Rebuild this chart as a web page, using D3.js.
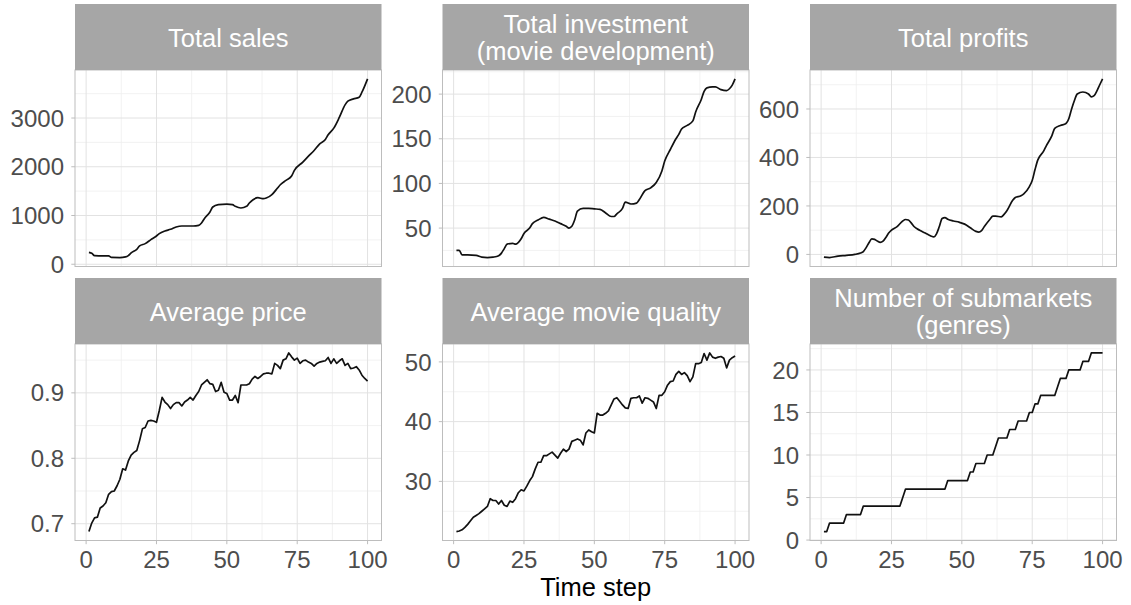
<!DOCTYPE html>
<html>
<head>
<meta charset="utf-8">
<script src="https://cdn.jsdelivr.net/npm/d3@7"></script>
<style>
body { margin: 0; background: #fff; }
text { font-family: 'Liberation Sans', Arial, Helvetica, sans-serif; }
</style>
</head>
<body>
<div id="chart"></div>
<script>
// ---- data ----
var timeSteps = d3.range(1, 101);

var salesSteps = [1,2,3,6,8,9,12,14,15,16,18,19,21,23,25,26,28,30,32,34,38,40,41,42,44,45,47,50,52,53,55,57,58,61,63,64,66,68,69,71,73,74,77,79,81,83,85,86,88,90,92,93,95,97,98,100];
var salesValues = [245,225,175,170,170,140,137,150,177,232,307,375,423,505,580,628,683,717,765,785,785,799,846,935,1072,1174,1222,1235,1222,1188,1154,1188,1256,1365,1345,1358,1427,1563,1631,1720,1809,1925,2096,2218,2334,2471,2560,2655,2792,3017,3270,3345,3392,3427,3529,3802];

var investSteps = [1,2,3,5,8,10,12,14,16,17,18,19,21,22,24,25,27,28,30,32,34,36,38,40,41,42,43,44,46,48,50,52,54,56,57,58,60,61,63,65,66,68,70,72,74,75,77,79,80,81,83,85,86,88,89,90,92,93,95,97,98,99,100];
var investValues = [25,25,20,20,19.5,17.5,17,17.5,19,22,27,32,33,32,38,44,50,55,59,62,60,58,55,52,50,52,59,69,72,72,71.5,71,67,63,63,66,72,79,77,78,82,92,95,101,114,125,138,150,155,161,165,170,180,194,203,207,208,208,205,204,206,210,217];

var profitSteps = [1,3,6,9,12,14,15,16,17,18,19,20,21,22,23,24,25,27,29,30,31,32,33,35,37,39,40,41,42,43,44,45,47,49,51,53,55,56,57,58,60,61,62,64,65,66,68,69,71,72,74,75,76,77,79,80,82,83,85,87,88,89,90,91,93,95,96,97,98,99,100];
var profitValues = [-11,-13,-7,-4,0,6,12,28,48,64,62,55,50,55,70,88,100,115,138,144,142,130,115,100,88,76,72,85,115,148,152,145,138,133,125,110,95,92,98,115,145,158,158,155,165,180,222,235,242,250,280,305,350,390,425,448,490,520,532,540,560,600,635,662,670,662,650,655,675,700,724];

var priceValues = [0.688,0.701,0.709,0.710,0.724,0.727,0.732,0.745,0.749,0.750,
  0.758,0.768,0.784,0.782,0.796,0.805,0.809,0.812,0.827,0.845,
  0.847,0.857,0.858,0.857,0.855,0.873,0.893,0.886,0.882,0.876,
  0.882,0.885,0.885,0.880,0.886,0.889,0.893,0.889,0.896,0.902,
  0.912,0.916,0.920,0.914,0.913,0.902,0.904,0.916,0.901,0.899,
  0.889,0.889,0.896,0.885,0.912,0.912,0.912,0.914,0.921,0.925,
  0.922,0.925,0.929,0.930,0.930,0.929,0.945,0.942,0.937,0.950,
  0.952,0.961,0.955,0.950,0.953,0.945,0.949,0.950,0.947,0.945,
  0.941,0.945,0.947,0.948,0.949,0.954,0.945,0.952,0.945,0.949,
  0.952,0.942,0.945,0.937,0.938,0.940,0.935,0.927,0.922,0.918];

var qualityValues = [21.6,21.7,21.9,22.3,22.8,23.4,24.0,24.3,24.6,25.0,
  25.4,25.8,27.1,26.8,26.8,26.2,26.8,26.0,25.8,26.7,
  26.5,27.1,28.1,28.6,28.4,29.2,30.1,30.8,32.1,33.2,
  33.2,34.3,34.3,34.6,34.9,34.4,33.9,34.7,35.4,35.0,
  35.4,36.7,36.9,37.1,36.9,36.1,38.1,38.6,38.3,38.1,
  41.4,41.1,41.1,41.4,41.8,42.8,43.8,44.0,43.4,42.8,
  42.3,42.2,43.9,44.0,44.0,44.3,43.1,44.0,43.9,43.6,
  43.3,42.2,44.4,44.4,45.0,46.1,46.7,46.8,47.9,48.4,
  47.9,48.2,47.7,46.7,47.5,49.7,49.7,49.9,51.4,50.3,
  51.5,50.8,50.6,50.8,50.9,50.6,49.0,50.3,50.7,51.0];

var submarketValues = [1,1,2,2,2,2,2,2,3,3,
  3,3,3,3,4,4,4,4,4,4,
  4,4,4,4,4,4,4,4,5,6,
  6,6,6,6,6,6,6,6,6,6,
  6,6,6,6,7,7,7,7,7,7,
  7,7,8,8,9,9,9,9,10,10,
  10,11,12,12,12,12,13,13,13,14,
  14,14,14,15,15,16,16,17,17,17,
  17,17,17,18,19,19,19,20,20,20,
  20,20,21,21,21,22,22,22,22,22];

var panelTitles = [
  ['Total sales'],
  ['Total investment', '(movie development)'],
  ['Total profits'],
  ['Average price'],
  ['Average movie quality'],
  ['Number of submarkets', '(genres)']
];

var xTicks = [0, 25, 50, 75, 100];
var salesTicks = [0, 1000, 2000, 3000];
var investTicks = [50, 100, 150, 200];
var profitTicks = [0, 200, 400, 600];
var priceTicks = [0.7, 0.8, 0.9];
var qualityTicks = [30, 40, 50];
var submarketTicks = [0, 5, 10, 15, 20];
var xTitle = 'Time step';

// ---- layout ----
var width = 1131, height = 605;
var panelLeft = 75, panelStep = 367.5, panelW = 306.5;
var stripTop0 = 4, rowStep = 274, stripH = 66, plotH = 196.5;

var panels = [
  {x: salesSteps, y: salesValues, ticks: salesTicks, smooth: true},
  {x: investSteps, y: investValues, ticks: investTicks, smooth: true},
  {x: profitSteps, y: profitValues, ticks: profitTicks, smooth: true},
  {x: timeSteps, y: priceValues, ticks: priceTicks, smooth: false},
  {x: timeSteps, y: qualityValues, ticks: qualityTicks, smooth: false},
  {x: timeSteps, y: submarketValues, ticks: submarketTicks, smooth: false}
];

function padded(ext) {
  var d = (ext[1] - ext[0]) * 0.05;
  return [ext[0] - d, ext[1] + d];
}

function minorsOf(major, dom) {
  var step = major[1] - major[0], out = [];
  for (var k = -1; k < major.length; k++) {
    var v = major[0] + step * (k + 0.5);
    if (v >= dom[0] && v <= dom[1]) out.push(v);
  }
  return out;
}

var svg = d3.select('#chart')
  .append('svg')
  .attr('width', width)
  .attr('height', height)
  .style('background-color', 'white');

var xDomain = padded(d3.extent(timeSteps));

panels.forEach(function(p, i) {
  var col = i % 3, row = Math.floor(i / 3);
  var left = panelLeft + col * panelStep;
  var stripTop = stripTop0 + row * rowStep;
  var top = stripTop + stripH;
  var bottom = top + plotH;

  var x = d3.scaleLinear().domain(xDomain).range([left, left + panelW]);
  var yDom = padded(d3.extent(p.y));
  var y = d3.scaleLinear().domain(yDom).range([bottom, top]);

  var g = svg.append('g');

  // minor grid
  g.selectAll('line.xminor').data(minorsOf(xTicks, xDomain)).enter()
    .append('line')
    .attr('x1', function(d) { return x(d); }).attr('x2', function(d) { return x(d); })
    .attr('y1', top).attr('y2', bottom)
    .style('stroke', '#efefef').style('stroke-width', 0.8);
  g.selectAll('line.yminor').data(minorsOf(p.ticks, yDom)).enter()
    .append('line')
    .attr('y1', function(d) { return y(d); }).attr('y2', function(d) { return y(d); })
    .attr('x1', left).attr('x2', left + panelW)
    .style('stroke', '#efefef').style('stroke-width', 0.8);

  // major grid
  g.selectAll('line.xmajor').data(xTicks).enter()
    .append('line')
    .attr('x1', function(d) { return x(d); }).attr('x2', function(d) { return x(d); })
    .attr('y1', top).attr('y2', bottom)
    .style('stroke', '#e2e2e2').style('stroke-width', 1);
  g.selectAll('line.ymajor').data(p.ticks).enter()
    .append('line')
    .attr('y1', function(d) { return y(d); }).attr('y2', function(d) { return y(d); })
    .attr('x1', left).attr('x2', left + panelW)
    .style('stroke', '#e2e2e2').style('stroke-width', 1);

  // the series
  var line = d3.line()
    .x(function(d) { return x(d[0]); })
    .y(function(d) { return y(d[1]); })
    .curve(p.smooth ? d3.curveMonotoneX : d3.curveLinear);
  g.append('path')
    .datum(d3.zip(p.x, p.y))
    .attr('d', line)
    .style('fill', 'none')
    .style('stroke', '#111')
    .style('stroke-width', 1.7)
    .style('stroke-linejoin', 'round');

  // border
  g.append('rect')
    .attr('x', left).attr('y', top)
    .attr('width', panelW).attr('height', plotH)
    .style('fill', 'none').style('stroke', '#bdbdbd').style('stroke-width', 1);

  // strip
  g.append('rect')
    .attr('x', left).attr('y', stripTop)
    .attr('width', panelW).attr('height', stripH)
    .style('fill', '#a6a6a6');
  var lines = panelTitles[i];
  var cy = stripTop + stripH / 2;
  lines.forEach(function(t, k) {
    g.append('text')
      .text(t)
      .attr('x', left + panelW / 2)
      .attr('y', cy + 9.5 + (k - (lines.length - 1) / 2) * 27.5)
      .attr('text-anchor', 'middle')
      .style('fill', 'white')
      .style('font-size', '25.5px');
  });

  // y axis
  g.selectAll('line.ytick').data(p.ticks).enter()
    .append('line')
    .attr('x1', left - 3.7).attr('x2', left)
    .attr('y1', function(d) { return y(d); }).attr('y2', function(d) { return y(d); })
    .style('stroke', '#bdbdbd').style('stroke-width', 1);
  g.selectAll('text.ylab').data(p.ticks).enter()
    .append('text')
    .text(function(d) { return String(d); })
    .attr('x', left - 11)
    .attr('y', function(d) { return y(d); })
    .attr('dy', '0.36em')
    .attr('text-anchor', 'end')
    .style('fill', '#4d4d4d')
    .style('font-size', '24px');

  // x axis only on the bottom row
  if (row === 1) {
    g.selectAll('line.xtick').data(xTicks).enter()
      .append('line')
      .attr('x1', function(d) { return x(d); }).attr('x2', function(d) { return x(d); })
      .attr('y1', bottom).attr('y2', bottom + 3.7)
      .style('stroke', '#bdbdbd').style('stroke-width', 1);
    g.selectAll('text.xlab').data(xTicks).enter()
      .append('text')
      .text(function(d) { return String(d); })
      .attr('x', function(d) { return x(d); })
      .attr('y', bottom + 27)
      .attr('text-anchor', 'middle')
      .style('fill', '#4d4d4d')
      .style('font-size', '24px');
  }
});

svg.append('text')
  .text(xTitle)
  .attr('x', panelLeft + (2 * panelStep + panelW) / 2)
  .attr('y', 596)
  .attr('text-anchor', 'middle')
  .style('fill', 'black')
  .style('font-size', '25.5px');
</script>
</body>
</html>
